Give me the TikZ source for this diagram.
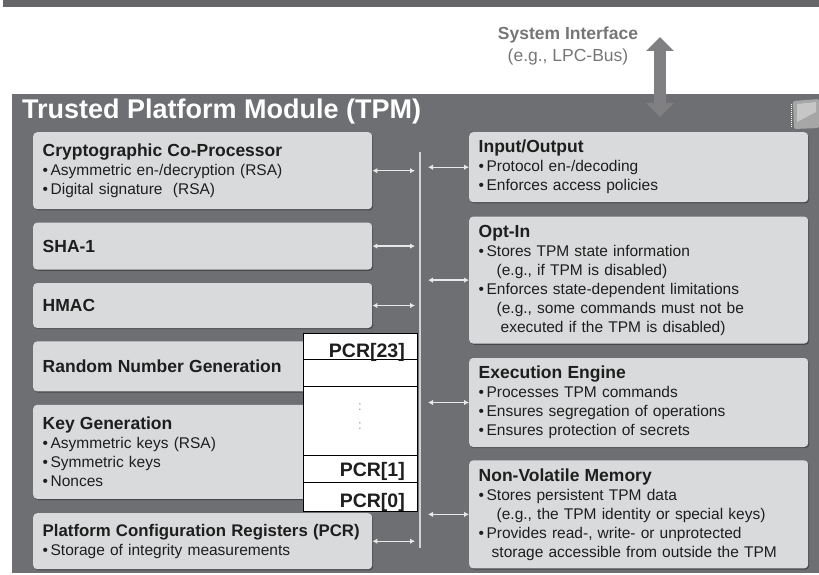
\documentclass[tikz,border=0pt]{standalone}
\usepackage{fontspec}
\setmainfont{Liberation Sans}
\usepackage{tikz}
\usetikzlibrary{arrows.meta,positioning,shadows}
\definecolor{tpmgray}{RGB}{110,111,114}
\definecolor{bandgray}{RGB}{102,102,104}
\definecolor{boxgray}{RGB}{217,218,219}
\definecolor{ink}{RGB}{30,30,30}
\definecolor{linkgray}{RGB}{232,232,232}
\definecolor{busgray}{RGB}{210,210,210}
\definecolor{sysgray}{RGB}{128,128,130}
\definecolor{labelgray}{RGB}{118,118,120}
\newcommand{\hd}[2][17.5]{{\fontsize{#1}{19}\selectfont\bfseries\mbox{#2}}}
\newcommand{\itm}{\textbullet\hspace{2.5pt}}
\tikzset{
  frame/.style={rectangle,fill=tpmgray,anchor=north west,inner sep=0pt,
                minimum width=812pt,minimum height=479pt},
  title/.style={font={\fontsize{27}{30}\selectfont\bfseries},text=white,
                anchor=base west,inner sep=0pt},
  mod/.style={rectangle,rounded corners=4pt,fill=boxgray,text=ink,
              drop shadow={shadow xshift=1pt,shadow yshift=-1.2pt,opacity=.35,fill=black},
              anchor=north west,text width=320pt,inner xsep=9.5pt,inner ysep=0pt,
              align=left,minimum height=#1,font={\fontsize{15.5}{19}\selectfont}},
  mod/.default=50pt,
  reg/.style={rectangle,draw=black,line width=1.1pt,fill=white,anchor=north west,
              inner sep=0pt,minimum width=114pt,minimum height=#1},
  regtxt/.style={font={\fontsize{19.5}{22}\selectfont\bfseries},text=ink,
                 anchor=base east,inner sep=0pt},
  vdot/.style={font={\fontsize{13}{15}\selectfont},text=gray!80,anchor=base,inner sep=0pt},
  link/.style={{Latex[length=5pt,width=5.5pt]}-{Latex[length=5pt,width=5.5pt]},
               line width=1.3pt,draw=linkgray},
  bus/.style={line width=1.6pt,draw=busgray},
  sysarrow/.style={{Triangle[width=27pt,length=14pt]}-{Triangle[width=27pt,length=14pt]},
                   line width=12pt,draw=sysgray},
  syslabel/.style={font={\fontsize{17.5}{22}\selectfont\bfseries},text=labelgray,
                   align=center,inner sep=0pt},
}
\begin{document}
\begin{tikzpicture}[x=1pt,y=-1pt]
  \useasboundingbox (0,0) rectangle (819,575);

  % --- band and module frame ---
  \fill[bandgray] (3,0) rectangle (819,7);
  \node[frame] (tpm) at (12,94) {};
  \node[title] (ttl) at (22,119) {Trusted Platform Module (TPM)};
  \fill[gray!70, rounded corners=2pt] (793,101) -- (819,99) -- (819,128) -- (794,129) -- cycle;
  \fill[gray!45] (797,104) -- (816,102) -- (816,112) -- (797,122) -- cycle;
  \draw[white, densely dotted, line width=1pt] (791,104) -- (791,127);

  % --- system interface ---
  \node[syslabel] (sysif) at (568,46)
    {System Interface\\{\mdseries (e.g., LPC-Bus)}};
  \coordinate (sysTop) at (660,37);
  \coordinate (sysBot) at (660,117);
  \draw[sysarrow] (sysTop) -- (sysBot);

  % --- left column ---
  \node[mod=77pt] (crypto) at (33,132)
    {\hd{Cryptographic Co-Processor}\\
     \itm Asymmetric en-/decryption (RSA)\\
     \itm Digital signature~ (RSA)};
  \node[mod=47pt, below=13pt of crypto.south west, anchor=north west] (sha) {\hd{SHA-1}};
  \node[mod=45pt, below=13pt of sha.south west, anchor=north west] (hmac) {\hd{HMAC}};
  \node[mod=50pt, below=13pt of hmac.south west, anchor=north west] (rng)
    {\hd{Random Number Generation}};
  \node[mod=94pt, below=13pt of rng.south west, anchor=north west] (keygen)
    {\hd{Key Generation}\\
     \itm Asymmetric keys (RSA)\\
     \itm Symmetric keys\\
     \itm Nonces};
  \node[mod=56pt, below=14pt of keygen.south west, anchor=north west] (pcr)
    {\hd[16.8]{Platform Configuration Registers (PCR)}\\
     \itm Storage of integrity measurements};

  % --- right column ---
  \node[mod=70pt] (io) at (469,132)
    {\hd{Input/Output}\\
     \itm Protocol en-/decoding\\
     \itm Enforces access policies};
  \node[mod=127pt, below=14pt of io.south west, anchor=north west] (optin)
    {\hd{Opt-In}\\
     \itm Stores TPM state information\\
     \hspace*{18pt}(e.g., if TPM is disabled)\\
     \itm Enforces state-dependent limitations\\
     \hspace*{18pt}(e.g., some commands must not be\\
     \hspace*{22pt}executed if the TPM is disabled)};
  \node[mod=89pt, below=14pt of optin.south west, anchor=north west] (exec)
    {\hd{Execution Engine}\\
     \itm Processes TPM commands\\
     \itm Ensures segregation of operations\\
     \itm Ensures protection of secrets};
  \node[mod=108pt, below=13pt of exec.south west, anchor=north west] (nvm)
    {\hd{Non-Volatile Memory}\\
     \itm Stores persistent TPM data\\
     \hspace*{18pt}(e.g., the TPM identity or special keys)\\
     \itm Provides read-, write- or unprotected\\
     \hspace*{13pt}storage accessible from outside the TPM};

  % --- internal bus ---
  \coordinate (busTop) at (420,152);
  \coordinate (busBot) at (420,548);
  \coordinate (busL) at (415,0);
  \coordinate (busR) at (428,0);
  \draw[bus] (busTop) -- (busBot);

  \draw[link] (crypto.east) -- (crypto.east -| busL);
  \draw[link] (sha.east) -- (sha.east -| busL);
  \draw[link] (hmac.east) -- (hmac.east -| busL);
  \draw[link] (pcr.east) -- (pcr.east -| busL);
  \draw[link] (busR |- io.west) -- (io.west);
  \draw[link] (busR |- optin.west) -- (optin.west);
  \draw[link] (busR |- exec.west) -- (exec.west);
  \draw[link] (busR |- nvm.west) -- (nvm.west);

  % --- PCR register table ---
  \node[reg=26pt] (r23) at (303,333) {};
  \node[reg=27pt] (rfree) at (303,359) {};
  \node[reg=69pt] (rdots) at (303,386) {};
  \node[reg=27pt] (r1) at (303,455) {};
  \node[reg=29pt] (r0) at (303,482) {};
  \node[regtxt] (t23) at (405,357) {PCR[23]};
  \node[regtxt] (t1) at (405,476) {PCR[1]};
  \node[regtxt] (t0) at (405,507) {PCR[0]};
  \node[vdot] (dotA) at (360,410) {:};
  \node[vdot] (dotB) at (360,429) {:};
\end{tikzpicture}
\end{document}
